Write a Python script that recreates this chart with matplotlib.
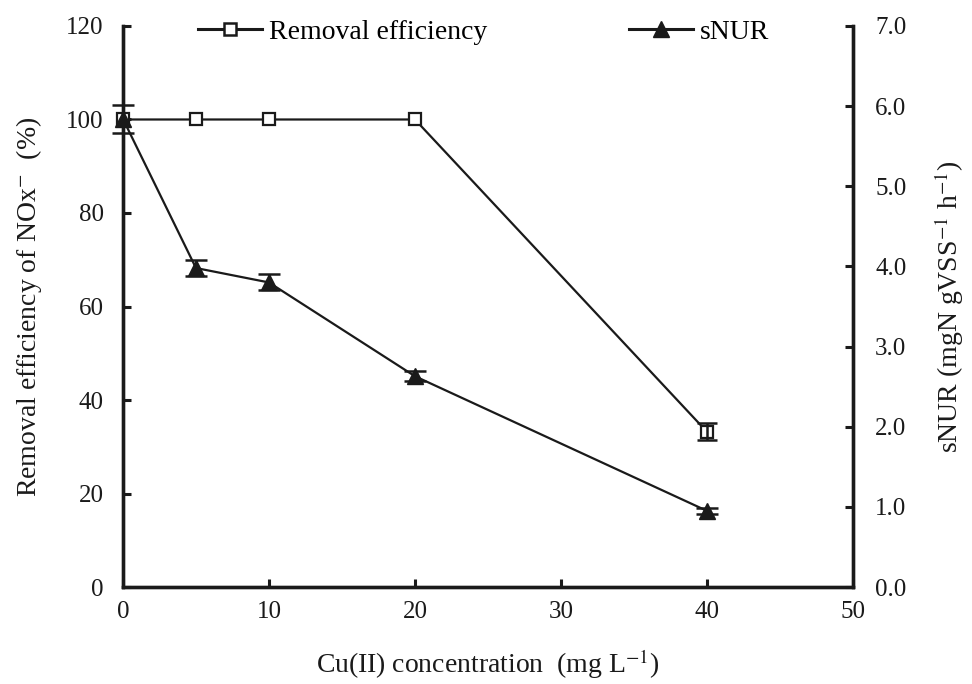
import matplotlib.pyplot as plt
from matplotlib.lines import Line2D

plt.rcParams['font.family'] = ['Liberation Serif', 'DejaVu Serif']
plt.rcParams['mathtext.fontset'] = 'stix'

# Données
cu = [0, 5, 10, 20, 40]
removal = [100, 100, 100, 100, 33.2]
removal_err = [0, 0, 0, 0, 1.8]
snur = [5.84, 3.98, 3.80, 2.63, 0.95]
snur_err = [0.17, 0.10, 0.10, 0.06, 0.04]

col = '#1a1a1a'

fig = plt.figure(figsize=(9.72, 6.84), dpi=100)
ax = fig.add_axes([0.1265, 0.1418, 0.751, 0.8202])
ax2 = ax.twinx()

# Efficacité d'élimination
ax.plot(cu, removal, color=col, lw=1.6, marker='s', ms=8, mfc='white',
        mec=col, mew=1.6, zorder=3, clip_on=False)
idx = [i for i, e in enumerate(removal_err) if e > 0]
ax.errorbar([cu[i] for i in idx], [removal[i] for i in idx],
            yerr=[removal_err[i] for i in idx], fmt='none', ecolor=col,
            capsize=7, capthick=1.8, elinewidth=1.8, zorder=3)

# sNUR
ax2.errorbar(cu, snur, yerr=snur_err, color=col, lw=1.6, marker='^',
             ms=11, mfc=col, mec=col, capsize=8, capthick=1.8,
             elinewidth=1.8, zorder=3, clip_on=False)

ax.set_xlim(0, 50)
ax.set_ylim(0, 120)
ax2.set_ylim(0, 7)
ax.set_xticks(range(0, 51, 10))
ax.set_yticks(range(0, 121, 20))
ax2.set_yticks([i * 1.0 for i in range(8)])
ax2.set_yticklabels(['%.1f' % v for v in ax2.get_yticks()])

for a in (ax, ax2):
    a.spines['top'].set_visible(False)
    for s in a.spines.values():
        s.set_linewidth(2.4)
        s.set_color(col)
    a.tick_params(direction='in', width=2.2, length=6, labelsize=18, colors=col)
ax.tick_params(axis='x', pad=10)
ax.tick_params(axis='y', pad=14)
ax2.tick_params(axis='y', pad=16)

ax.set_xlabel('Cu(II) concentration  (mg L$^{-1}$)', fontsize=20, labelpad=18, color=col)
ax.set_ylabel('Removal efficiency of NOx$^{-}$  (%)', fontsize=20, labelpad=16, color=col)
ax2.set_ylabel('sNUR (mgN gVSS$^{-1}$ h$^{-1}$)', fontsize=20, labelpad=19, color=col)

h1 = Line2D([], [], color=col, lw=2.2, marker='s', ms=8, mfc='white', mec=col, mew=1.8)
h2 = Line2D([], [], color=col, lw=2.2, marker='^', ms=11, mfc=col, mec=col)
ax.legend([h1, h2], ['Removal efficiency', 'sNUR'], loc='center',
          bbox_to_anchor=(0.494, 0.989), ncol=2, frameon=False, fontsize=20,
          columnspacing=5.1, handlelength=2.3, handletextpad=0.25,
          borderpad=0, borderaxespad=0)

fig.savefig('out.png', dpi=100)
